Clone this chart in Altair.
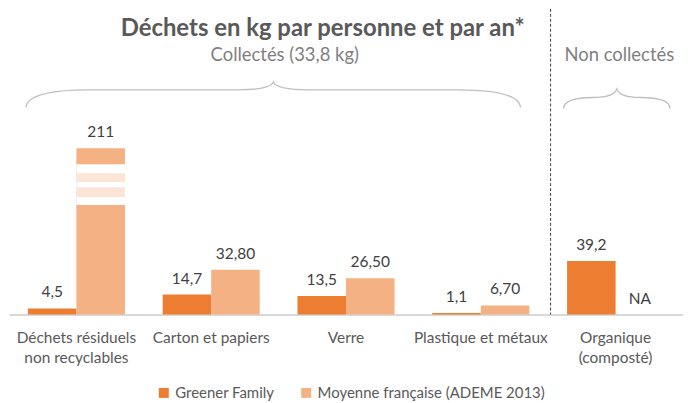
import altair as alt
import pandas as pd

# ---- data ----
categories = ["Déchets résiduels|non recyclables", "Carton et papiers", "Verre",
              "Plastique et métaux", "Organique|(composté)"]
series = ["Greener Family", "Moyenne française (ADEME 2013)"]
greener = [4.5, 14.7, 13.5, 1.1, 39.2]
moyenne = [211, 32.8, 26.5, 6.7, None]
greener_labels = ["4,5", "14,7", "13,5", "1,1", "39,2"]
moyenne_labels = ["211", "32,80", "26,50", "6,70", "NA"]

# broken (truncated) bar: drawn height and break pattern, in kg
break_cap = 121.9
break_gap = [80.3, 110.2]
break_stripes = [[86.1, 93.4], [97.1, 103.6]]

title = "Déchets en kg par personne et par an*"
group_titles = ["Collectés (33,8 kg)", "Non collectés"]
colors = ["#ED7D31", "#F4B183"]
stripe_color = "#FBE5D6"
FONT = "Lato"

rows = []
for i, c in enumerate(categories):
    for s, vals, labs in [(series[0], greener, greener_labels), (series[1], moyenne, moyenne_labels)]:
        v = vals[i]
        drawn = None if v is None else min(v, break_cap)
        rows.append(dict(cat=c, series=s, drawn=drawn,
                         ylab=0 if drawn is None else drawn, label=labs[i]))
df = pd.DataFrame(rows)

seg_gap = pd.DataFrame([dict(cat=categories[0], series=series[1], y0=break_gap[0], y1=break_gap[1])])
seg_stripes = pd.DataFrame([dict(cat=categories[0], series=series[1], y0=a, y1=b) for a, b in break_stripes])

xscale = alt.Scale(domain=categories, paddingInner=0.28, paddingOuter=0.14)
yscale = alt.Scale(domain=[0, 224.1], nice=False, zero=True)
xo = alt.XOffset("series:N", sort=series, scale=alt.Scale(domain=series, paddingInner=0, paddingOuter=0))

xaxis = alt.Axis(title=None, labelExpr="split(datum.label, '|')", labelFontSize=15.5, labelFont=FONT,
                 labelColor="#595959", labelLineHeight=20, labelPadding=16, ticks=False, tickSize=0,
                 domainColor="#D9D9D9", domainWidth=1.8, labelAngle=0, grid=False, labelLimit=0)

X = alt.X("cat:N", scale=xscale, axis=xaxis, sort=categories)

bars = alt.Chart(df).mark_bar().encode(
    x=X, xOffset=xo,
    y=alt.Y("drawn:Q", scale=yscale, axis=None),
    color=alt.Color("series:N", sort=series,
                    scale=alt.Scale(domain=series, range=colors),
                    legend=alt.Legend(orient="none", legendX=148, legendY=378, direction="horizontal",
                                      title=None, symbolType="square", symbolSize=100,
                                      symbolStrokeWidth=0, labelFontSize=15, labelFont=FONT,
                                      labelColor="#595959", columnPadding=24, labelOffset=4,
                                      symbolOpacity=1, labelLimit=0)),
)

gap = alt.Chart(seg_gap).mark_bar(color="white").encode(
    x=alt.X("cat:N", scale=xscale, sort=categories), xOffset=xo,
    y=alt.Y("y0:Q", scale=yscale), y2="y1:Q")
stripes = alt.Chart(seg_stripes).mark_bar(color=stripe_color).encode(
    x=alt.X("cat:N", scale=xscale, sort=categories), xOffset=xo,
    y=alt.Y("y0:Q", scale=yscale), y2="y1:Q")

labels = alt.Chart(df).mark_text(dy=-11, baseline="alphabetic", fontSize=15.5, font=FONT,
                                 color="#404040").encode(
    x=alt.X("cat:N", scale=xscale, sort=categories), xOffset=xo,
    y=alt.Y("ylab:Q", scale=yscale), text="label:N")

one = lambda t: alt.Chart(pd.DataFrame({"t": [t]}))

rule = one("r").mark_rule(color="#404040", strokeDash=[3, 2], strokeWidth=1).encode(
    x=alt.value(544), y=alt.value(0), y2=alt.value(307))

title_t = one(title).mark_text(font=FONT, fontWeight="bold", fontSize=24, color="#595959",
                               align="center", baseline="alphabetic").encode(
    x=alt.value(315), y=alt.value(27), text="t:N")
sub1 = one(group_titles[0]).mark_text(font=FONT, fontSize=18.5, color="#7F7F7F",
                                      align="center", baseline="alphabetic").encode(
    x=alt.value(277), y=alt.value(52), text="t:N")
sub2 = one(group_titles[1]).mark_text(font=FONT, fontSize=18.5, color="#7F7F7F",
                                      align="center", baseline="alphabetic").encode(
    x=alt.value(613), y=alt.value(52), text="t:N")

brace1_path = ("M -248.5 17.7 C -247.5 8 -232 0 -185 0 L -35 0 C -12 0 -2 -3 0 -7.8 "
               "C 2 -3 12 0 35 0 L 185 0 C 232 0 247.5 8 248.5 17.7")
brace2_path = ("M -53.5 11 C -53 3 -42 0 -24 0 C -10 0 -2 -3 0 -8.5 "
               "C 2 -3 10 0 24 0 C 42 0 53 3 53.5 11")
brace1 = one("b").mark_point(shape=brace1_path, size=4, filled=False, color="#BFBFBF",
                             strokeWidth=1.3, opacity=1).encode(x=alt.value(265.5), y=alt.value(81.3))
brace2 = one("b").mark_point(shape=brace2_path, size=4, filled=False, color="#BFBFBF",
                             strokeWidth=1.3, opacity=1).encode(x=alt.value(610.5), y=alt.value(89))

chart = alt.layer(bars, gap, stripes, labels, rule, title_t, sub1, sub2, brace1, brace2).properties(
    width=677, height=307,
    padding={"left": 1, "top": 0, "right": 0, "bottom": 88},
    autosize=alt.AutoSizeParams(type="none"),
).configure_view(strokeWidth=0)

chart.save("out.html", embed_options={"renderer": "svg", "actions": False})
